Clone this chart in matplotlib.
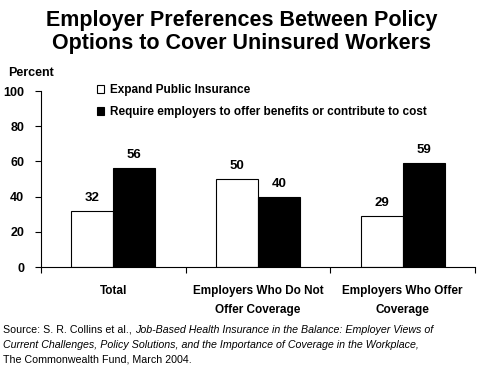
import matplotlib
matplotlib.use("Agg")
import matplotlib.pyplot as plt
import numpy as np
from matplotlib.patches import Patch

categories = ["Total", "Employers Who Do Not\nOffer Coverage", "Employers Who Offer\nCoverage"]
public_ins = [32, 50, 29]
require_emp = [56, 40, 59]
series_names = ["Expand Public Insurance", "Require employers to offer benefits or contribute to cost"]
yticks = [0, 20, 40, 60, 80, 100]

plt.rcParams['font.family'] = ['Liberation Sans', 'DejaVu Sans']

fig = plt.figure(figsize=(4.83, 3.66), dpi=100)
ax = fig.add_axes([41/483, 1-267/366, (475-41)/483, (267-91)/366])

x = np.arange(len(categories))
w = 0.29
b1 = ax.bar(x - w/2, public_ins, w, color='white', edgecolor='black', linewidth=0.8)
b2 = ax.bar(x + w/2, require_emp, w, color='black', edgecolor='black', linewidth=0.8)

for bars, vals in ((b1, public_ins), (b2, require_emp)):
    for r, v in zip(bars, vals):
        ax.text(r.get_x() + r.get_width()/2, v + 4, str(v), ha='center', va='bottom',
                fontsize=9.5, fontweight='bold')

ax.set_xlim(-0.5, len(categories) - 0.5)
ax.set_ylim(0, 100)
ax.set_yticks(yticks)
ax.set_yticklabels([str(t) for t in yticks], fontsize=9, fontweight='bold')
ax.set_xticks(np.arange(len(categories) + 1) - 0.5)
ax.set_xticklabels([])
ax.set_xticks(x, minor=True)
ax.set_xticklabels(categories, minor=True, fontsize=8.5, fontweight='bold', linespacing=1.8)
ax.tick_params(axis='x', which='minor', length=0, pad=13)
ax.tick_params(axis='x', which='major', length=4, width=0.8, direction='out')
ax.tick_params(axis='y', length=4, width=0.8, direction='out', pad=8)
for s in ('top', 'right'):
    ax.spines[s].set_visible(False)
for s in ('left', 'bottom'):
    ax.spines[s].set_linewidth(0.8)

handles = [Patch(facecolor='white', edgecolor='black', linewidth=0.8),
           Patch(facecolor='black', edgecolor='black', linewidth=0.8)]
fig.legend(handles, series_names, loc='upper left', bbox_to_anchor=(97/483, 1-84/366),
           frameon=False, handlelength=0.6, handleheight=0.6, handletextpad=0.5,
           labelspacing=0.85, borderaxespad=0, borderpad=0,
           prop={'size': 8.5, 'weight': 'bold'})

fig.text(0.5, 1-10/366, "Employer Preferences Between Policy\nOptions to Cover Uninsured Workers",
         ha='center', va='top', fontsize=15.5, fontweight='bold', linespacing=1.15)
fig.text(8/483, 1-73/366, "Percent", ha='left', va='center', fontsize=9, fontweight='bold')

fs = 7.7
t0 = fig.text(3/483, 1-330/366, "Source: S. R. Collins et al., ", ha='left', va='center', fontsize=fs)
fig.canvas.draw()
r = t0.get_window_extent()
fig.text(r.x1/483, 1-330/366, "Job-Based Health Insurance in the Balance: Employer Views of",
         ha='left', va='center', fontsize=fs, style='italic')
fig.text(3/483, 1-345/366, "Current Challenges, Policy Solutions, and the Importance of Coverage in the Workplace,",
         ha='left', va='center', fontsize=fs, style='italic')
fig.text(3/483, 1-360/366, "The Commonwealth Fund, March 2004.", ha='left', va='center', fontsize=fs)

fig.savefig("out.png", dpi=100)
